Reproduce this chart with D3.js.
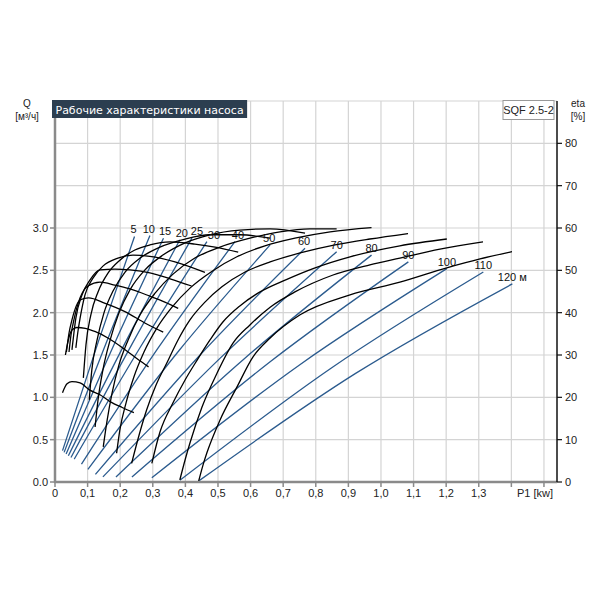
<!DOCTYPE html>
<html><head><meta charset="utf-8">
<script src="https://cdn.jsdelivr.net/npm/d3@7"></script>
<style>
body{margin:0;background:#fff;}
svg{display:block;}
</style></head>
<body>
<svg id="c" width="600" height="600"></svg>
<script>
// ---- data ----
const heads = [5,10,15,20,25,30,40,50,60,70,80,90,100,110,120];
const headLabels = ["5","10","15","20","25","30","40","50","60","70","80","90","100","110","120 м"];
// Q (m3/h) vs P1 (kW) lines for each head: start, middle, end
const flowP1 = [
 [0.023,0.134,0.244],[0.028,0.160,0.291],[0.034,0.183,0.333],[0.041,0.212,0.383],
 [0.049,0.235,0.420],[0.059,0.263,0.466],[0.081,0.316,0.552],[0.101,0.380,0.660],
 [0.124,0.445,0.767],[0.147,0.506,0.864],[0.187,0.579,0.971],[0.236,0.660,1.084],
 [0.297,0.749,1.202],[0.383,0.849,1.314],[0.440,0.921,1.403]];
const flowQ = [
 [0.37,1.67,2.90],[0.35,1.67,2.91],[0.33,1.64,2.88],[0.31,1.62,2.86],
 [0.29,1.62,2.88],[0.27,1.60,2.84],[0.21,1.58,2.84],[0.15,1.55,2.80],
 [0.09,1.50,2.76],[0.06,1.46,2.72],[0.06,1.45,2.68],[0.06,1.42,2.60],
 [0.05,1.38,2.52],[0.02,1.35,2.48],[0.01,1.28,2.34]];
// efficiency curves (eta %) vs P1 (kW) for each head
const etaP1 = [
 [0.023,0.037,0.052,0.077,0.107,0.138,0.169,0.206,0.242],
 [0.032,0.042,0.052,0.067,0.093,0.124,0.165,0.216,0.257,0.287],
 [0.035,0.043,0.052,0.077,0.103,0.154,0.216,0.277,0.332],
 [0.043,0.049,0.058,0.077,0.101,0.138,0.184,0.230,0.291,0.337,0.378],
 [0.052,0.058,0.064,0.083,0.107,0.138,0.184,0.230,0.291,0.353,0.419],
 [0.064,0.071,0.077,0.092,0.117,0.147,0.193,0.239,0.291,0.368,0.460],
 [0.087,0.095,0.110,0.132,0.163,0.199,0.245,0.291,0.353,0.429,0.491,0.562],
 [0.105,0.113,0.129,0.150,0.178,0.215,0.261,0.322,0.399,0.475,0.567,0.660],
 [0.123,0.132,0.147,0.169,0.196,0.230,0.276,0.331,0.399,0.475,0.567,0.660,0.767],
 [0.148,0.160,0.175,0.196,0.224,0.261,0.307,0.362,0.429,0.506,0.598,0.690,0.782,0.864],
 [0.189,0.199,0.218,0.242,0.273,0.313,0.359,0.414,0.482,0.558,0.644,0.736,0.844,0.971],
 [0.235,0.258,0.281,0.310,0.343,0.377,0.414,0.460,0.512,0.583,0.660,0.752,0.859,0.966,1.083],
 [0.297,0.322,0.362,0.399,0.436,0.475,0.515,0.567,0.629,0.706,0.798,0.905,1.058,1.202],
 [0.383,0.399,0.414,0.451,0.497,0.546,0.598,0.660,0.736,0.853,0.966,1.058,1.181,1.313],
 [0.440,0.454,0.466,0.506,0.558,0.607,0.660,0.752,0.905,1.058,1.202,1.304,1.402]];
const etaPct = [
 [21.1,23.2,23.7,23.4,21.7,20.6,19.0,17.6,16.4],
 [30.0,33.9,35.9,36.5,36.3,35.5,33.9,31.2,28.8,27.2],
 [30.7,35.2,38.3,43.0,43.5,42.2,40.2,37.5,35.4],
 [30.7,34.7,38.3,43.5,46.3,47.2,46.5,45.6,43.9,42.5,41.0],
 [31.2,35.2,38.7,44.2,47.7,50.1,50.3,50.1,49.4,48.0,46.3],
 [31.7,35.9,38.7,44.2,48.2,51.0,52.9,53.6,53.3,52.0,49.5],
 [24.6,32.4,39.5,44.9,49.4,52.4,54.8,56.0,56.7,56.2,55.5,54.3],
 [19.4,26.5,33.5,39.9,45.1,49.6,52.9,55.5,57.4,58.4,58.4,57.6],
 [13.0,19.4,26.5,33.5,39.9,45.4,50.1,53.6,56.5,58.4,59.5,59.8,58.8],
 [8.3,14.6,21.0,27.6,33.5,39.5,44.6,49.1,52.9,55.5,57.6,59.1,59.8,59.8],
 [6.8,12.3,18.7,24.8,30.7,36.4,41.3,45.8,49.8,53.2,55.8,57.6,59.1,60.1],
 [4.4,11.1,17.0,22.9,28.1,33.5,38.3,42.5,46.1,49.6,52.0,54.1,56.0,57.4,58.7],
 [4.4,11.8,18.7,24.1,28.8,33.5,37.8,41.6,44.9,47.7,50.6,53.2,55.8,57.4],
 [0.5,5.2,9.2,17.7,25.7,32.8,37.1,41.3,44.9,48.9,51.3,52.9,55.0,56.7],
 [0.0,4.0,6.9,14.6,22.4,29.5,34.0,39.5,44.2,47.2,50.6,52.7,54.4]];
const xTicks = [0,0.1,0.2,0.3,0.4,0.5,0.6,0.7,0.8,0.9,1.0,1.1,1.2,1.3,1.4,1.5];
const xTickLabels = ["0","0,1","0,2","0,3","0,4","0,5","0,6","0,7","0,8","0,9","1,0","1,1","1,2","1,3","",""];
const qTicks = [0,0.5,1.0,1.5,2.0,2.5,3.0];
const etaTicks = [0,10,20,30,40,50,60,70,80];
const gridQ = [0.5,1.0,1.5,2.0,2.5,3.0,3.5,4.0,4.5];
const title = "Рабочие характеристики насоса";
const pumpName = "SQF 2.5-2";

// ---- drawing ----
const svg = d3.select("#c");
const L=55, R=557, B=482, T=101;
const x = d3.scaleLinear().domain([0,1.54]).range([L,R]);
const yQ = d3.scaleLinear().domain([0,4.5]).range([B,T]);
const yE = d3.scaleLinear().domain([0,90]).range([B,T]);
const font = "'Liberation Sans', Arial, sans-serif";

// grid
const g = svg.append("g");
g.selectAll("line.v").data(xTicks.filter(d=>d>0)).join("line")
 .attr("x1",d=>x(d)).attr("x2",d=>x(d)).attr("y1",T).attr("y2",B)
 .attr("stroke","#d4d4d4").attr("stroke-width",1.2);
g.selectAll("line.h").data(gridQ).join("line")
 .attr("x1",L).attr("x2",R).attr("y1",d=>yQ(d)).attr("y2",d=>yQ(d))
 .attr("stroke","#d4d4d4").attr("stroke-width",1.2);

// blue Q lines
const qLine = d3.line().x(d=>x(d[0])).y(d=>yQ(d[1])).curve(d3.curveMonotoneX);
heads.forEach((h,i)=>{
  const pts = flowP1[i].map((p,j)=>[p,flowQ[i][j]]);
  svg.append("path").attr("d",qLine(pts)).attr("fill","none")
   .attr("stroke","#2b5b8e").attr("stroke-width",1.3);
});
// black eta curves
const eLine = d3.line().x(d=>x(d[0])).y(d=>yE(d[1])).curve(d3.curveMonotoneX);
heads.forEach((h,i)=>{
  const pts = etaP1[i].map((p,j)=>[p,etaPct[i][j]]);
  svg.append("path").attr("d",eLine(pts)).attr("fill","none")
   .attr("stroke","#000").attr("stroke-width",1.3);
});
// head labels (small horizontal nudges to avoid overlap, as in the original)
const nudge = {5:-1,10:-1,15:1.5,20:2,25:5,30:7,40:3,50:-1,60:-1};
heads.forEach((h,i)=>{
  const n = flowP1[i].length-1;
  svg.append("text").attr("x",x(flowP1[i][n])+(nudge[h]||0)).attr("y",yQ(flowQ[i][n])-3)
   .attr("text-anchor","middle").attr("font-family",font).attr("font-size",11)
   .attr("fill","#111").text(headLabels[i]);
});

// axes
svg.append("line").attr("x1",L).attr("x2",L).attr("y1",T).attr("y2",B+1)
 .attr("stroke","#8a8a8a").attr("stroke-width",2.5);
svg.selectAll("line.lt").data(qTicks).join("line")
 .attr("x1",L-5).attr("x2",L).attr("y1",d=>yQ(d)).attr("y2",d=>yQ(d))
 .attr("stroke","#8a8a8a").attr("stroke-width",1.5);
svg.selectAll("text.lt").data(qTicks).join("text")
 .attr("x",L-7).attr("y",d=>yQ(d)+4).attr("text-anchor","end")
 .attr("font-family",font).attr("font-size",11).attr("fill","#222")
 .text(d=>d3.format(".1f")(d));
svg.append("line").attr("x1",L-1).attr("x2",R).attr("y1",B).attr("y2",B)
 .attr("stroke","#8a8a8a").attr("stroke-width",2.5);
svg.selectAll("line.bt").data(xTicks).join("line")
 .attr("x1",d=>x(d)).attr("x2",d=>x(d)).attr("y1",B).attr("y2",B+5)
 .attr("stroke","#8a8a8a").attr("stroke-width",1.5);
svg.selectAll("text.bt").data(xTicks).join("text")
 .attr("x",d=>x(d)).attr("y",B+15).attr("text-anchor","middle")
 .attr("font-family",font).attr("font-size",11).attr("fill","#222")
 .text((d,i)=>xTickLabels[i]);
svg.append("text").attr("x",553).attr("y",B+15).attr("text-anchor","end")
 .attr("font-family",font).attr("font-size",11).attr("fill","#222").text("P1 [kw]");
svg.append("line").attr("x1",R).attr("x2",R).attr("y1",T).attr("y2",B)
 .attr("stroke","#111").attr("stroke-width",1.5);
svg.selectAll("line.rt").data(etaTicks).join("line")
 .attr("x1",R).attr("x2",R+5).attr("y1",d=>yE(d)).attr("y2",d=>yE(d))
 .attr("stroke","#111").attr("stroke-width",1.2);
svg.selectAll("text.rt").data(etaTicks).join("text")
 .attr("x",R+8).attr("y",d=>yE(d)+4).attr("text-anchor","start")
 .attr("font-family",font).attr("font-size",11).attr("fill","#222").text(d=>d);

// axis titles
svg.append("text").attr("x",27).attr("y",107).attr("text-anchor","middle")
 .attr("font-family",font).attr("font-size",10).attr("fill","#222").text("Q");
svg.append("text").attr("x",27).attr("y",120).attr("text-anchor","middle")
 .attr("font-family",font).attr("font-size",10).attr("fill","#222").text("[м³/ч]");
svg.append("text").attr("x",578).attr("y",107).attr("text-anchor","middle")
 .attr("font-family",font).attr("font-size",10).attr("fill","#222").text("eta");
svg.append("text").attr("x",578).attr("y",120).attr("text-anchor","middle")
 .attr("font-family",font).attr("font-size",10).attr("fill","#222").text("[%]");

// title box
const tb = svg.append("g");
const tr = tb.append("rect").attr("x",52).attr("y",100).attr("height",18).attr("fill","#2c3e50");
const tt = tb.append("text").attr("x",55.5).attr("y",113.5).attr("font-family","'DejaVu Sans', sans-serif")
 .attr("font-size",11).attr("fill","#fff").text(title);
const tw = tt.node().getComputedTextLength();
tr.attr("width",tw+7);

// pump name box
svg.append("rect").attr("x",503).attr("y",100.5).attr("width",51).attr("height",19)
 .attr("fill","#fff").attr("stroke","#999").attr("stroke-width",1);
svg.append("text").attr("x",528.5).attr("y",114).attr("text-anchor","middle")
 .attr("font-family",font).attr("font-size",11).attr("fill","#222").text(pumpName);
</script>
</body></html>
